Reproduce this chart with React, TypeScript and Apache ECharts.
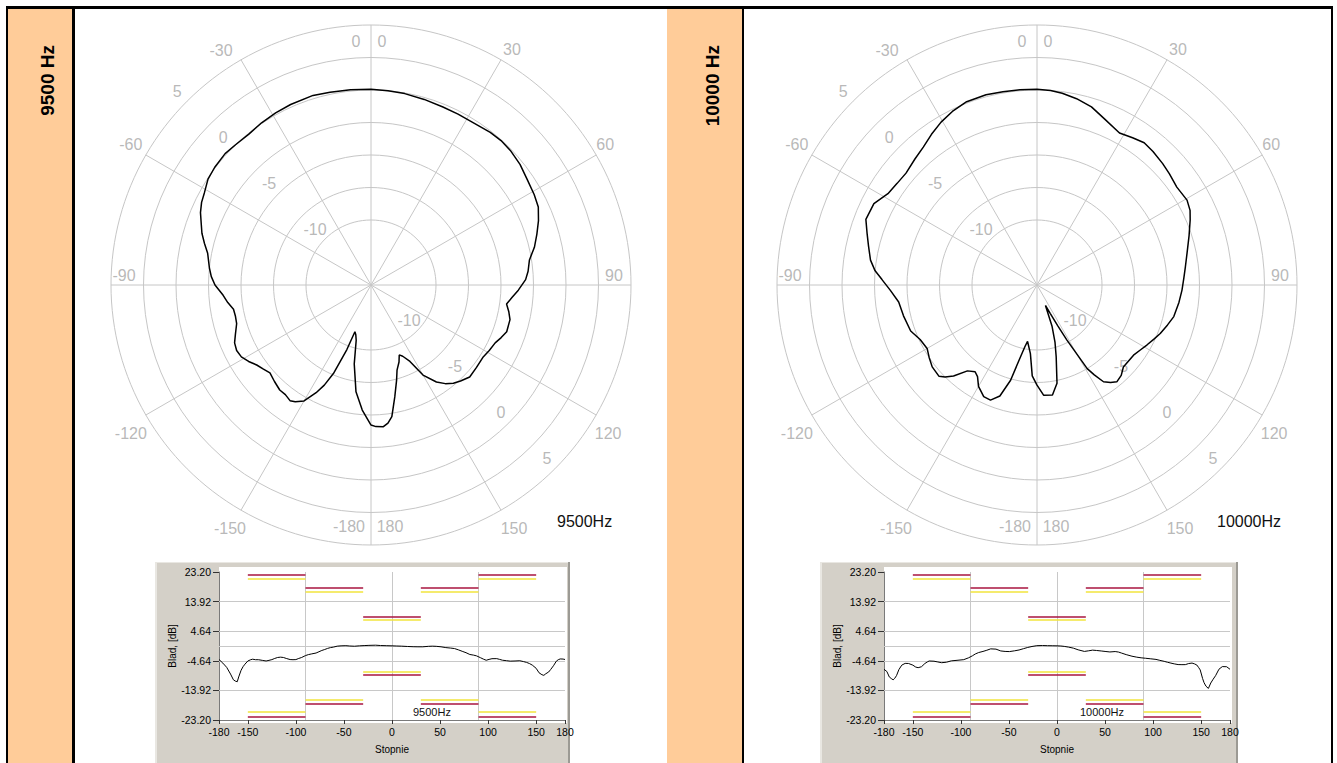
import React, { useEffect, useRef } from "react";
import * as echarts from "echarts";

// ---------- DATA ----------
const ANGLES_9500 = [
  -180, -176, -172, -168, -165, -163, -161, -159.5, -157, -155, -153, -150, -147, -145, -142, -139, -135, -131,
  -128, -125, -122, -119, -116, -113, -110, -106, -103, -100, -97, -94, -90, -87, -84, -79, -76, -73, -70, -67,
  -64, -61, -57, -53, -48, -44, -39, -34, -29, -24, -17, -12, -6, 0, 5, 10, 16, 22, 27, 32, 38, 42, 46, 51, 56,
  61, 65, 69, 73, 77, 81, 85, 88, 92, 95, 98, 101, 104, 109, 112, 115, 119, 123, 128, 133, 137, 140, 143, 146,
  150, 153, 156, 158, 160, 163, 165, 168, 171, 173, 175, 178, 180,
];
const VALUES_9500 = [
  -4.23, -5.36, -6.7, -8.8, -10.6, -11.0, -11.2, -9.7, -7.6, -6.5, -5.7, -4.7, -4.3, -4.14, -4.3, -4.3, -4.5, -4.7,
  -4.5, -4.27, -3.9, -3.6, -3.5, -3.6, -3.9, -4.25, -4.3, -4.26, -3.9, -3.6, -3.0, -2.7, -2.5, -2.2, -1.8, -1.4,
  -1.1, -0.75, -0.5, -0.35, -0.05, 0.05, 0.1, 0.0, -0.07, 0.05, 0.13, 0.2, 0.25, 0.15, 0.1, 0.05, 0.0, -0.05,
  -0.15, -0.23, -0.25, -0.25, -0.1, -0.05, -0.1, -0.25, -0.5, -0.65, -0.8, -1.2, -1.66, -2.1, -2.66, -2.87, -3.1,
  -3.66, -4.1, -4.47, -4.2, -3.98, -3.96, -4.2, -4.46, -4.6, -4.75, -4.7, -4.62, -4.9, -5.14, -5.5, -6.0, -7.0,
  -8.4, -9.0, -9.2, -8.7, -8.15, -7.4, -6.2, -4.75, -4.3, -4.06, -4.1, -4.23,
];

const ANGLES_10000 = [
  -180, -177, -174.5, -172, -170.5, -169, -167, -164.5, -161.5, -158, -154.5, -150, -147, -144.5, -141, -137.5,
  -135, -133, -128, -124, -120, -115, -110, -103, -97, -92, -88, -85, -81.5, -77, -73, -69, -63.5, -58.5, -54,
  -49.5, -44, -39.5, -35, -30.5, -26, -21, -15, -10, -5, 0, 4, 7.5, 12, 17, 22, 28.5, 33, 37, 41, 46, 50, 55,
  60.5, 64, 67, 72, 78, 83, 87.5, 92, 97, 103, 107, 111.5, 115, 118.5, 122, 126, 130, 133.5, 137, 140.5, 143,
  145.5, 147.5, 149, 151.5, 153, 155, 157.5, 160, 162.5, 165, 168.5, 172, 176.5, 180,
];
const VALUES_10000 = [
  -7.3, -8.0, -9.7, -10.3, -10.6, -10.2, -9.3, -7.4, -6.0, -5.45, -5.48, -6.0, -6.6, -6.8, -6.5, -5.5, -5.0, -4.7,
  -4.77, -5.0, -5.24, -5.08, -4.66, -4.46, -4.28, -3.7, -3.07, -2.5, -2.05, -1.7, -1.33, -0.9, -0.98, -1.55, -1.7,
  -1.75, -1.5, -1.25, -0.85, -0.46, -0.15, 0.1, 0.15, 0.1, 0.08, 0.05, 0.0, -0.12, -0.35, -0.67, -1.2, -1.7, -1.5,
  -1.3, -1.4, -1.56, -1.7, -1.87, -1.74, -1.9, -2.2, -2.7, -3.2, -3.5, -3.7, -3.84, -4.0, -4.2, -4.5, -4.81, -5.1,
  -5.36, -5.6, -5.82, -5.85, -5.84, -5.5, -5.35, -5.6, -5.97, -6.8, -7.5, -10.2, -11.5, -12.6, -13.3, -11.6, -10.4,
  -9.3, -7.28, -6.46, -6.5, -7.3,
];

// polar axes
const RADIUS_MIN = -15;
const RADIUS_MAX = 5;
const RADIUS_STEP = 2.5;
const RADIAL_LABELS = [5, 0, -5, -10];
const ANGLE_LABEL_TEXTS = ["0", "0", "-30", "30", "-60", "60", "-90", "90", "-120", "120", "-150", "150", "-180", "180"];
const ANGLE_LABEL_ANGLES = [0, 0, -30, 30, -60, 60, -90, 90, -120, 120, -150, 150, -180, 180];

// error (bottom) charts
const X_TICKS = [-180, -150, -100, -50, 0, 50, 100, 150, 180];
const Y_TICKS = [-23.2, -13.92, -4.64, 4.64, 13.92, 23.2];
const GRID_Y = [0, 4.64, -4.64, 13.92, -13.92];
const GRID_X = [-90, 0, 90];
const TOL_X0 = [-150, -90, -30, 30, 90];
const TOL_X1 = [-90, -30, 30, 90, 150];
const TOL_UPPER_RED = [22.3, 18.3, 9.3, 18.3, 22.3];
const TOL_UPPER_YELLOW = [21.1, 17.1, 8.3, 17.1, 21.1];
const TOL_LOWER_RED = [-22.3, -18.2, -9.1, -18.2, -22.3];
const TOL_LOWER_YELLOW = [-20.6, -17.0, -8.0, -17.0, -20.6];

const FREQ_TAGS = ["9500Hz", "10000Hz"];
const SIDE_TITLES = ["9500 Hz", "10000 Hz"];

// ---------- STYLE / LAYOUT ----------
const FONT = '"Liberation Sans", Arial, Helvetica, sans-serif';
const ORANGE = "#FFCC99";
const RING = "#C6C6C6";
const LABEL_GRAY = "#A6A6A6";
const ANGLE_LABEL_OFFSETS = [
  [-15, 16], [11, 16], [-20, -9], [11, -10], [-15, -11], [9, -11], [13, -10], [-17, -10],
  [-15, 18], [12, 18], [-11, 18], [13, 18], [-22, -19], [19, -19],
];
const LAYOUT = [
  { cx: 371, cy: 285, sideX: 47, tagX: 557, gridLeft: 219, panelX: 155, panelW: 415, bTagX: 413 },
  { cx: 1037, cy: 285, sideX: 712, tagX: 1217, gridLeft: 884, panelX: 820, panelW: 418, bTagX: 1080 },
];

function rect(x: number, y: number, w: number, h: number, fill: string, z = -10) {
  return { type: "rect", shape: { x, y, width: w, height: h }, style: { fill }, z, silent: true };
}

function buildOption() {
  const sets = [
    { angles: ANGLES_9500, values: VALUES_9500 },
    { angles: ANGLES_10000, values: VALUES_10000 },
  ];
  const nRings = Math.round((RADIUS_MAX - RADIUS_MIN) / RADIUS_STEP) + 1;
  const ringColors: string[] = [];
  for (let k = 0; k < nRings; k++) ringColors.push(k < 2 ? "rgba(0,0,0,0)" : RING);

  const graphic: any[] = [
    rect(6, 6, 1327, 3, "#000", -5),
    rect(6, 6, 2, 757, "#000", -5),
    rect(8, 9, 64, 754, ORANGE),
    rect(72, 6, 3, 757, "#000", -5),
    rect(667, 9, 75, 754, ORANGE),
    rect(742, 6, 2, 757, "#000", -5),
    rect(1331, 6, 2, 757, "#000", -5),
  ];

  const series: any[] = [];
  LAYOUT.forEach((l, i) => {
    const s = sets[i];
    // panels
    graphic.push(rect(l.panelX, 562, l.panelW, 201, "#D4D0C8", -10));
    graphic.push(rect(l.panelX, 562, 2, 201, "#E9E7E2", -9));
    graphic.push(rect(l.panelX, 562, l.panelW, 1, "#E9E7E2", -9));
    graphic.push(rect(l.panelX + l.panelW - 2, 562, 2, 201, "#9C9A94", -9));
    graphic.push(rect(l.gridLeft, 567, 348, 156, "#FFFFFF", -8));
    // texts
    graphic.push({
      type: "text", x: l.sideX, y: 45, rotation: Math.PI / 2, z: 20, silent: true,
      style: { text: SIDE_TITLES[i], font: `bold 19px ${FONT}`, fill: "#000", align: "right", verticalAlign: "middle" },
    });
    graphic.push({
      type: "text", x: l.tagX, y: 521, z: 20, silent: true,
      style: { text: FREQ_TAGS[i], font: `16px ${FONT}`, fill: "#111", align: "left", verticalAlign: "middle" },
    });
    graphic.push({
      type: "text", x: l.bTagX, y: 712, z: 20, silent: true,
      style: { text: FREQ_TAGS[i], font: `11px ${FONT}`, fill: "#111", align: "left", verticalAlign: "middle" },
    });

    // polar curve
    series.push({
      type: "line", coordinateSystem: "polar", polarIndex: i, silent: true, z: 6,
      symbol: "none", showSymbol: false, smooth: false,
      lineStyle: { color: "#000", width: 1.5 },
      data: s.angles.map((a, k) => [s.values[k], a]),
    });
    // angle labels
    series.push({
      type: "scatter", coordinateSystem: "polar", polarIndex: i, silent: true, z: 4,
      symbolSize: 1, itemStyle: { color: "rgba(0,0,0,0)" },
      label: { show: true, position: "inside", color: LABEL_GRAY, fontSize: 16, fontFamily: FONT, align: "center", verticalAlign: "middle" },
      data: ANGLE_LABEL_ANGLES.map((a, k) => ({
        value: [RADIUS_MAX, a],
        label: { formatter: ANGLE_LABEL_TEXTS[k], offset: ANGLE_LABEL_OFFSETS[k] },
      })),
    });
    // radial labels
    series.push({
      type: "scatter", coordinateSystem: "polar", polarIndex: i, silent: true, z: 4,
      symbolSize: 1, itemStyle: { color: "rgba(0,0,0,0)" },
      label: { show: true, position: "inside", color: LABEL_GRAY, fontSize: 16, fontFamily: FONT, align: "center", verticalAlign: "middle" },
      data: [
        ...RADIAL_LABELS.map((v) => ({ value: [v, -45], label: { formatter: String(v), offset: [-10, -10] } })),
        ...RADIAL_LABELS.map((v) => ({ value: [v, 135], label: { formatter: String(v), offset: [-8, -10] } })),
      ],
    });

    // bottom grid lines
    series.push({
      type: "lines", coordinateSystem: "cartesian2d", xAxisIndex: i, yAxisIndex: i, silent: true, z: 1,
      lineStyle: { color: "#C8C8C8", width: 1, opacity: 1 },
      data: [
        ...GRID_Y.map((y) => ({ coords: [[-180, y], [180, y]] })),
        ...GRID_X.map((x) => ({ coords: [[x, -23.2], [x, 23.2]] })),
      ],
    });
    series.push({
      type: "lines", coordinateSystem: "cartesian2d", xAxisIndex: i, yAxisIndex: i, silent: true, z: 3,
      lineStyle: { color: "#F2E53C", width: 1.6, opacity: 1 },
      data: [
        ...TOL_X0.map((x0, k) => ({ coords: [[x0, TOL_UPPER_YELLOW[k]], [TOL_X1[k], TOL_UPPER_YELLOW[k]]] })),
        ...TOL_X0.map((x0, k) => ({ coords: [[x0, TOL_LOWER_YELLOW[k]], [TOL_X1[k], TOL_LOWER_YELLOW[k]]] })),
      ],
    });
    series.push({
      type: "lines", coordinateSystem: "cartesian2d", xAxisIndex: i, yAxisIndex: i, silent: true, z: 3,
      lineStyle: { color: "#A8153F", width: 1.6, opacity: 1 },
      data: [
        ...TOL_X0.map((x0, k) => ({ coords: [[x0, TOL_UPPER_RED[k]], [TOL_X1[k], TOL_UPPER_RED[k]]] })),
        ...TOL_X0.map((x0, k) => ({ coords: [[x0, TOL_LOWER_RED[k]], [TOL_X1[k], TOL_LOWER_RED[k]]] })),
      ],
    });
    series.push({
      type: "line", xAxisIndex: i, yAxisIndex: i, silent: true, z: 6,
      symbol: "none", showSymbol: false,
      lineStyle: { color: "#000", width: 1 },
      data: s.angles.map((a, k) => [a, s.values[k]]),
    });
  });

  return {
    animation: false,
    backgroundColor: "#FFFFFF",
    textStyle: { fontFamily: FONT },
    graphic: { elements: graphic },
    polar: LAYOUT.map((l) => ({ center: [l.cx, l.cy], radius: 260 })),
    angleAxis: LAYOUT.map((_, i) => ({
      polarIndex: i, type: "value", min: -180, max: 180, interval: 30, startAngle: 270, clockwise: true,
      axisLine: { show: false }, axisTick: { show: false }, axisLabel: { show: false },
      splitLine: { show: true, lineStyle: { color: RING, width: 1 } },
    })),
    radiusAxis: LAYOUT.map((_, i) => ({
      polarIndex: i, type: "value", min: RADIUS_MIN, max: RADIUS_MAX, interval: RADIUS_STEP,
      axisLine: { show: false }, axisTick: { show: false }, axisLabel: { show: false },
      splitLine: { show: true, lineStyle: { color: ringColors, width: 1 } },
    })),
    grid: LAYOUT.map((l) => ({ left: l.gridLeft, top: 572, width: 346, height: 148, show: false, outerBoundsMode: "none" })),
    xAxis: LAYOUT.map((_, i) => ({
      type: "value", gridIndex: i, min: -180, max: 180,
      axisLine: { show: true, onZero: false, lineStyle: { color: "#7A7A7A", width: 1 } },
      axisTick: { show: true, customValues: X_TICKS, length: 4, lineStyle: { color: "#333" } },
      axisLabel: { customValues: X_TICKS, color: "#000", fontSize: 10.5, margin: 6, formatter: (v: number) => String(v) },
      splitLine: { show: false },
      name: "Stopnie", nameLocation: "middle", nameGap: 24,
      nameTextStyle: { color: "#000", fontSize: 10, fontFamily: FONT },
    })),
    yAxis: LAYOUT.map((_, i) => ({
      type: "value", gridIndex: i, min: -23.2, max: 23.2,
      axisLine: { show: true, onZero: false, lineStyle: { color: "#7A7A7A", width: 1 } },
      axisTick: { show: true, customValues: Y_TICKS, length: 6, lineStyle: { color: "#333" } },
      axisLabel: { customValues: Y_TICKS, color: "#000", fontSize: 10.5, margin: 8, formatter: (v: number) => v.toFixed(2) },
      splitLine: { show: false },
      name: "Blad, [dB]", nameLocation: "middle", nameGap: 42, nameRotate: 90,
      nameTextStyle: { color: "#000", fontSize: 10, fontFamily: FONT },
    })),
    series,
  };
}

export default function App() {
  const ref = useRef<HTMLDivElement>(null);
  useEffect(() => {
    if (!ref.current) return;
    const chart = echarts.init(ref.current, null, { renderer: "svg", width: 1337, height: 763 });
    chart.setOption(buildOption() as any);
    return () => chart.dispose();
  }, []);
  return (
    <div
      ref={ref}
      style={{ position: "fixed", left: 0, top: 0, width: 1337, height: 763, background: "#fff", overflow: "hidden" }}
    />
  );
}
